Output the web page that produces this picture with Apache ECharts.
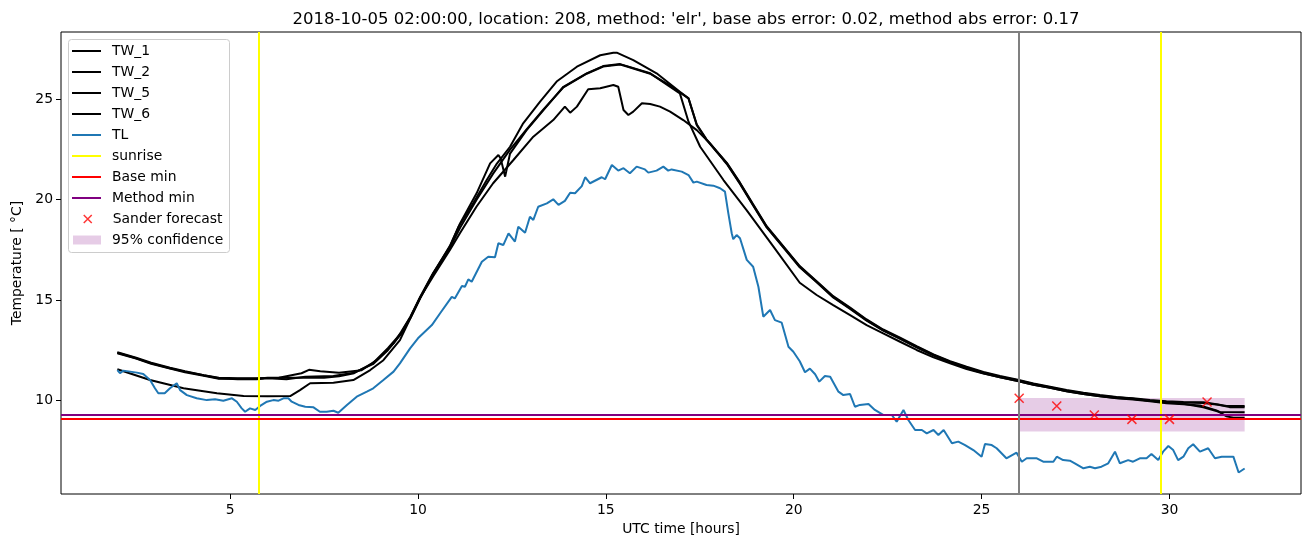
<!DOCTYPE html>
<html>
<head>
<meta charset="utf-8">
<script src="https://cdn.jsdelivr.net/npm/echarts@6/dist/echarts.min.js"></script>
<style>
html,body{margin:0;padding:0;background:#fff;}
#chart{width:1310px;height:547px;}
</style>
</head>
<body>
<div id="chart"></div>
<script>
const titleText = "2018-10-05 02:00:00, location: 208, method: 'elr', base abs error: 0.02, method abs error: 0.17";
const xTicks = [5, 10, 15, 20, 25, 30];
const yTicks = [10, 15, 20, 25];
const seriesNames = ['TW_1', 'TW_2', 'TW_5', 'TW_6', 'TL', 'sunrise', 'Base min', 'Method min', 'Sander forecast', '95% confidence'];

const tw1 = [[2.0,12.37],[2.5,12.1],[2.9,11.84],[3.4,11.6],[3.8,11.43],[4.3,11.25],[4.7,11.12],[5.2,11.1],[5.7,11.1],[6.3,11.12],[6.9,11.35],[7.1,11.52],[7.4,11.45],[7.9,11.38],[8.5,11.5],[8.9,12.0],[9.35,12.84],[9.55,13.4],[9.8,14.17],[10.06,15.16],[10.4,16.33],[10.85,17.66],[11.08,18.65],[11.47,19.82],[11.83,20.98],[12.1,21.8],[12.45,22.64],[12.8,23.81],[13.25,24.89],[13.69,25.89],[14.23,26.63],[14.85,27.2],[15.2,27.33],[15.29,27.33],[15.73,26.96],[16.35,26.3],[16.97,25.38],[17.2,25.05],[17.42,23.72],[17.68,22.98],[17.95,22.39],[18.22,21.81],[18.57,20.82],[18.92,19.74],[19.28,18.65],[19.72,17.66],[20.16,16.66],[20.61,15.91],[21.05,15.16],[21.5,14.59],[21.94,14.0],[22.38,13.5],[22.83,13.09],[23.27,12.67],[23.72,12.26],[24.16,11.92],[24.6,11.64],[25.05,11.38],[25.49,11.18],[25.93,11.01],[26.38,10.81],[26.82,10.65],[27.26,10.48],[27.71,10.35],[28.15,10.23],[28.59,10.15],[29.03,10.1],[29.48,10.01],[29.92,9.95],[30.37,9.92],[30.9,9.9],[31.25,9.8],[31.52,9.72],[32.0,9.72]];
const tw2 = [[2.0,12.4],[2.5,12.12],[2.9,11.88],[3.4,11.63],[3.8,11.45],[4.3,11.25],[4.7,11.1],[5.2,11.05],[5.7,11.05],[6.0,11.1],[6.5,11.05],[7.0,11.18],[7.75,11.21],[8.3,11.38],[8.8,11.8],[9.2,12.5],[9.55,13.3],[9.8,14.1],[10.06,15.1],[10.4,16.3],[10.85,17.7],[11.12,18.82],[11.56,20.32],[11.92,21.81],[12.14,22.23],[12.2,22.06],[12.32,21.15],[12.45,22.3],[12.89,23.47],[13.34,24.47],[13.87,25.63],[14.49,26.3],[14.93,26.66],[15.38,26.76],[15.56,26.66],[16.18,26.3],[16.97,25.3],[17.02,25.22],[17.2,23.89],[17.51,22.64],[18.13,20.98],[18.75,19.47],[19.46,17.66],[20.16,15.86],[20.61,15.25],[21.05,14.75],[21.5,14.25],[21.94,13.75],[22.38,13.34],[22.83,12.92],[23.27,12.51],[23.72,12.14],[24.16,11.84],[24.6,11.56],[25.05,11.34],[25.49,11.15],[25.93,10.98],[26.38,10.78],[26.82,10.62],[27.26,10.45],[27.71,10.32],[28.15,10.2],[28.59,10.1],[29.03,10.04],[29.48,9.95],[29.92,9.85],[30.37,9.8],[30.81,9.74],[31.25,9.5],[31.52,9.2],[31.7,9.13],[32.0,9.13]];
const tw5 = [[2.0,12.35],[2.5,12.08],[2.9,11.82],[3.4,11.58],[3.8,11.4],[4.3,11.22],[4.7,11.08],[5.2,11.07],[5.7,11.07],[6.0,11.12],[6.5,11.12],[7.0,11.12],[7.5,11.12],[7.9,11.2],[8.3,11.35],[8.8,11.85],[9.2,12.6],[9.55,13.35],[9.8,14.15],[10.06,15.13],[10.41,16.2],[10.85,17.5],[11.12,18.34],[11.56,19.66],[12.0,20.82],[12.54,21.98],[13.07,23.14],[13.6,23.97],[13.91,24.64],[14.05,24.34],[14.23,24.64],[14.53,25.51],[14.85,25.56],[15.2,25.72],[15.33,25.63],[15.47,24.47],[15.6,24.22],[15.73,24.39],[15.96,24.81],[16.18,24.77],[16.44,24.64],[16.71,24.39],[17.06,23.97],[17.42,23.47],[17.77,22.81],[18.13,21.98],[18.22,21.78],[18.57,20.79],[18.92,19.71],[19.28,18.62],[19.72,17.63],[20.16,16.63],[20.61,15.88],[21.05,15.13],[21.5,14.56],[21.94,13.97],[22.38,13.47],[22.83,13.06],[23.27,12.64],[23.72,12.23],[24.16,11.89],[24.6,11.61],[25.05,11.35],[25.49,11.15],[25.93,10.98],[26.38,10.78],[26.82,10.62],[27.26,10.45],[27.71,10.32],[28.15,10.2],[28.59,10.12],[29.03,10.07],[29.48,9.98],[29.92,9.92],[30.37,9.89],[30.9,9.87],[31.3,9.78],[31.6,9.66],[32.0,9.66]];
const tw6 = [[2.0,11.55],[2.87,11.01],[3.76,10.6],[4.65,10.35],[5.36,10.21],[6.0,10.2],[6.6,10.21],[6.86,10.51],[7.13,10.85],[7.75,10.88],[8.28,11.01],[8.73,11.51],[9.08,12.0],[9.52,13.0],[9.8,14.1],[10.06,15.1],[10.4,16.3],[10.85,17.6],[11.12,18.6],[11.56,20.0],[12.0,21.3],[12.45,22.5],[12.89,23.5],[13.34,24.5],[13.87,25.6],[14.49,26.28],[14.93,26.64],[15.38,26.74],[15.56,26.64],[16.18,26.28],[16.7,25.7],[17.2,25.05],[17.42,23.75],[17.68,23.01],[17.95,22.42],[18.22,21.84],[18.57,20.85],[18.92,19.77],[19.28,18.68],[19.72,17.69],[20.16,16.69],[20.61,15.94],[21.05,15.19],[21.5,14.62],[21.94,14.03],[22.38,13.53],[22.83,13.12],[23.27,12.7],[23.72,12.29],[24.16,11.95],[24.6,11.67],[25.05,11.41],[25.49,11.21],[25.93,11.04],[26.38,10.84],[26.82,10.68],[27.26,10.51],[27.71,10.38],[28.15,10.26],[28.59,10.16],[29.03,10.08],[29.48,9.98],[29.92,9.9],[30.37,9.83],[30.9,9.65],[31.34,9.42],[32.0,9.4]];
const tl = [[2.0,11.51],[2.07,11.35],[2.16,11.48],[2.52,11.38],[2.69,11.31],[2.87,11.01],[3.0,10.6],[3.09,10.35],[3.26,10.35],[3.4,10.6],[3.58,10.85],[3.67,10.51],[3.85,10.26],[4.11,10.1],[4.38,10.01],[4.6,10.05],[4.82,9.98],[5.05,10.1],[5.18,9.93],[5.31,9.6],[5.4,9.43],[5.53,9.6],[5.67,9.52],[5.8,9.72],[5.98,9.93],[6.15,10.01],[6.29,9.98],[6.42,10.1],[6.55,10.1],[6.64,9.93],[6.82,9.77],[7.0,9.68],[7.22,9.65],[7.39,9.43],[7.57,9.43],[7.75,9.48],[7.88,9.38],[8.11,9.77],[8.37,10.18],[8.64,10.43],[8.81,10.6],[9.08,11.01],[9.35,11.43],[9.52,11.84],[9.79,12.59],[10.0,13.09],[10.14,13.34],[10.37,13.75],[10.59,14.34],[10.9,15.16],[10.98,15.08],[11.17,15.7],[11.25,15.66],[11.34,16.03],[11.43,15.91],[11.7,16.91],[11.87,17.16],[12.05,17.13],[12.14,17.83],[12.27,17.74],[12.41,18.32],[12.58,17.91],[12.67,18.65],[12.85,18.35],[12.98,19.15],[13.07,18.99],[13.2,19.65],[13.43,19.82],[13.6,20.02],[13.74,19.74],[13.91,19.94],[14.05,20.35],[14.18,20.32],[14.36,20.68],[14.45,21.12],[14.58,20.82],[14.89,21.12],[14.98,21.02],[15.16,21.73],[15.33,21.45],[15.47,21.57],[15.64,21.32],[15.82,21.65],[16.04,21.51],[16.13,21.35],[16.35,21.45],[16.53,21.65],[16.66,21.45],[16.75,21.51],[17.02,21.4],[17.2,21.23],[17.33,20.85],[17.42,20.9],[17.68,20.73],[17.86,20.7],[18.04,20.57],[18.17,20.4],[18.26,19.32],[18.35,18.33],[18.39,18.03],[18.48,18.24],[18.57,18.08],[18.75,17.0],[18.92,16.66],[19.06,15.66],[19.19,14.17],[19.37,14.5],[19.5,14.0],[19.68,13.87],[19.86,12.67],[19.99,12.42],[20.16,11.95],[20.3,11.4],[20.43,11.58],[20.57,11.3],[20.68,10.93],[20.83,11.21],[20.97,11.18],[21.19,10.43],[21.32,10.26],[21.5,10.31],[21.63,9.68],[21.76,9.77],[21.99,9.82],[22.16,9.52],[22.38,9.27],[22.61,9.27],[22.74,8.93],[22.92,9.52],[23.05,9.02],[23.23,8.52],[23.41,8.52],[23.54,8.35],[23.72,8.52],[23.85,8.27],[23.99,8.52],[24.21,7.86],[24.38,7.94],[24.56,7.77],[24.78,7.52],[25.0,7.19],[25.09,7.82],[25.27,7.77],[25.4,7.61],[25.66,7.11],[25.93,7.39],[26.07,6.94],[26.2,7.11],[26.47,7.11],[26.64,6.94],[26.91,6.94],[27.0,7.19],[27.17,7.02],[27.35,6.99],[27.48,6.86],[27.71,6.61],[27.88,6.69],[28.02,6.61],[28.19,6.69],[28.37,6.86],[28.55,7.44],[28.68,6.86],[28.9,7.02],[29.03,6.94],[29.21,7.11],[29.39,7.11],[29.52,7.32],[29.7,7.02],[29.83,7.44],[29.97,7.72],[30.1,7.52],[30.23,7.02],[30.37,7.19],[30.5,7.61],[30.63,7.81],[30.81,7.44],[31.03,7.61],[31.21,7.11],[31.39,7.19],[31.57,7.19],[31.7,7.19],[31.84,6.4],[32.0,6.6]];

const sunriseX = [5.77, 29.77];
const forecastStartX = 26.0;
const baseMin = 9.08;
const methodMin = 9.28;
const forecastX = [26, 27, 28, 29, 30, 31];
const forecastY = [10.1, 9.72, 9.27, 9.05, 9.05, 9.92];
const confX = [26, 32];
const confY = [8.44, 10.11];

const FONT = 'DejaVu Sans';
const chart = echarts.init(document.getElementById('chart'), null, {renderer: 'canvas'});

function lineSeries(name, data, color) {
  return {name: name, type: 'line', data: data, color: color, showSymbol: false, symbol: 'none',
    lineStyle: {color: color, width: 2}, animation: false, silent: true, z: 3};
}
function markSeries(name, color, lines, width, z) {
  return {name: name, type: 'line', data: [], color: color, animation: false, silent: true, z: z,
    markLine: {silent: true, symbol: ['none', 'none'], label: {show: false}, animation: false,
      lineStyle: {color: color, width: width, type: 'solid'}, emphasis: {disabled: true}, data: lines}};
}
const xMarker = 'path://M0,0L10,10M10,0L0,10';

const option = {
  backgroundColor: '#ffffff',
  animation: false,
  textStyle: {fontFamily: FONT},
  title: {text: titleText, left: 681, top: 6, textAlign: 'center',
    textStyle: {fontFamily: FONT, fontSize: 16.5, fontWeight: 'normal', color: '#000'}},
  grid: {left: 61, top: 32, width: 1240, height: 462, show: true, borderColor: '#000', borderWidth: 1, backgroundColor: 'transparent'},
  xAxis: {type: 'value', min: 0.5, max: 33.5,
    name: 'UTC time [hours]', nameLocation: 'middle', nameGap: 27,
    nameTextStyle: {fontFamily: FONT, fontSize: 13.9, color: '#000'},
    axisLine: {show: false}, splitLine: {show: false},
    axisTick: {show: true, inside: false, length: 5, lineStyle: {color: '#000', width: 1}, customValues: xTicks},
    axisLabel: {fontFamily: FONT, fontSize: 13.9, color: '#000', margin: 9, customValues: xTicks}},
  yAxis: {type: 'value', min: 5.33, max: 28.36,
    name: 'Temperature [ °C]', nameLocation: 'middle', nameGap: 37, nameRotate: 90,
    nameTextStyle: {fontFamily: FONT, fontSize: 13.9, color: '#000'},
    axisLine: {show: false}, splitLine: {show: false},
    axisTick: {show: true, inside: false, length: 5, lineStyle: {color: '#000', width: 1}, customValues: yTicks},
    axisLabel: {fontFamily: FONT, fontSize: 13.9, color: '#000', margin: 8, customValues: yTicks}},
  legend: [
    {data: seriesNames.slice(0, 8), orient: 'vertical', left: 72, top: 40.5, itemGap: 0, padding: 0,
      icon: 'rect', itemWidth: 29, itemHeight: 2, selectedMode: false, z: 10,
      textStyle: {fontFamily: FONT, fontSize: 13.9, color: '#000', lineHeight: 21, padding: [0, 0, 0, 6]}},
    {data: [{name: seriesNames[8], icon: xMarker, itemStyle: {color: '#ff0000', borderColor: '#ff0000', borderWidth: 1.5}}],
      orient: 'vertical', left: 83, top: 208.5, itemGap: 0, padding: 0, itemWidth: 8, itemHeight: 8, selectedMode: false, z: 10,
      textStyle: {fontFamily: FONT, fontSize: 13.9, color: '#000', lineHeight: 21, padding: [0, 0, 0, 16]}},
    {data: [seriesNames[9]], orient: 'vertical', left: 73, top: 229.5, itemGap: 0, padding: 0,
      icon: 'rect', itemWidth: 28, itemHeight: 9, selectedMode: false, z: 10,
      textStyle: {fontFamily: FONT, fontSize: 13.9, color: '#000', lineHeight: 21, padding: [0, 0, 0, 6]}}
  ],
  graphic: [{type: 'rect', z: 9, shape: {x: 68.5, y: 39.5, width: 161, height: 213, r: 3},
    style: {fill: 'rgba(255,255,255,0.8)', stroke: '#cccccc', lineWidth: 1}}],
  series: [
    {name: seriesNames[9], type: 'line', data: [], color: 'rgba(128,0,128,0.2)', animation: false, silent: true, z: 1,
      markArea: {silent: true, itemStyle: {color: 'rgba(128,0,128,0.2)'}, label: {show: false},
        data: [[{xAxis: confX[0], yAxis: confY[0]}, {xAxis: confX[1], yAxis: confY[1]}]]}},
    lineSeries(seriesNames[0], tw1, '#000000'),
    lineSeries(seriesNames[1], tw2, '#000000'),
    lineSeries(seriesNames[2], tw5, '#000000'),
    lineSeries(seriesNames[3], tw6, '#000000'),
    lineSeries(seriesNames[4], tl, '#1f77b4'),
    markSeries(seriesNames[5], '#ffff00', sunriseX.map(v => ({xAxis: v})), 2, 4),
    markSeries(seriesNames[6], '#ff0000', [{yAxis: baseMin}], 2, 4),
    markSeries(seriesNames[7], '#800080', [{yAxis: methodMin}], 2, 4),
    markSeries('forecast start', '#808080', [{xAxis: forecastStartX}], 2, 4),
    {name: seriesNames[8], type: 'scatter', data: forecastX.map((x, i) => [x, forecastY[i]]),
      symbol: xMarker, symbolSize: 9, animation: false, silent: true, z: 5,
      itemStyle: {color: '#ff0000', borderColor: '#ff0000', borderWidth: 1.5}}
  ]
};
chart.setOption(option);
</script>
</body>
</html>
